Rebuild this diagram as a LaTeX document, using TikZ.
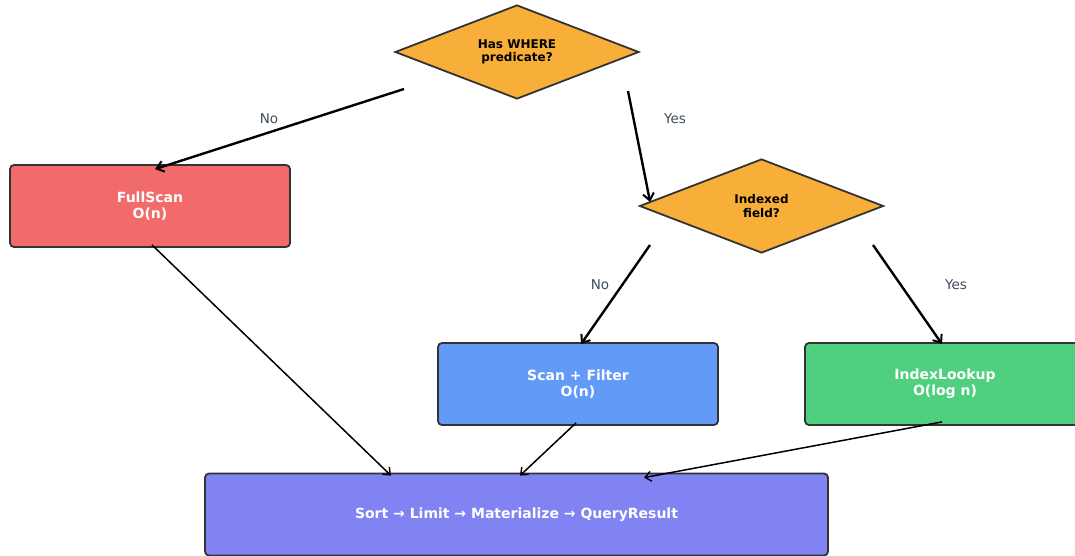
\documentclass[tikz,border=0pt]{standalone}
\usepackage{fontspec}
\setmainfont{DejaVu Sans}
\usetikzlibrary{shapes.geometric,arrows.meta,calc}

\definecolor{outline}{HTML}{333333}
\definecolor{amberfill}{HTML}{F7AF3A}
\definecolor{redfill}{HTML}{F26B6B}
\definecolor{bluefill}{HTML}{6399F7}
\definecolor{greenfill}{HTML}{4FD07F}
\definecolor{indigofill}{HTML}{8183F2}
\definecolor{labelgray}{HTML}{404B5C}

\tikzset{
  decision/.style={diamond, aspect=2.6, draw=outline, line width=1.8pt, fill=amberfill,
    minimum width=244pt, minimum height=94pt, inner sep=0pt, align=center,
    font=\bfseries\fontsize{12}{13.5}\selectfont, text=black},
  stepbox/.style={rectangle, rounded corners=4pt, draw=outline, line width=1.8pt,
    minimum width=280pt, minimum height=82pt, align=center,
    font=\bfseries\fontsize{14}{16}\selectfont, text=white},
  branch/.style={line width=2.4pt, -{Straight Barb[length=7pt,width=11pt,line width=2pt]}},
  merge/.style={line width=1.5pt, -{Straight Barb[length=6pt,width=10pt,line width=1.4pt]}},
  edgelabel/.style={font=\fontsize{13.5}{15}\selectfont, text=labelgray}
}

\begin{document}
\begin{tikzpicture}[x=1pt,y=-1pt]
\useasboundingbox (0,0) rectangle (1075,556);
\clip (0,0) rectangle (1075,556);

% decisions
\node[decision] (d1) at (517,52) {Has WHERE\\predicate?};
\node[decision] (d2) at (761.5,206) {Indexed\\field?};

% access paths and result pipeline
\node[stepbox, fill=redfill] (full) at (150,206) {FullScan\\O(n)};
\node[stepbox, fill=bluefill] (scan) at (578,384) {Scan + Filter\\O(n)};
\node[stepbox, fill=greenfill] (idx) at (945,384) {IndexLookup\\O(log n)};
\node[stepbox, fill=indigofill, minimum width=623pt] (sort) at (516.5,514.5)
  {Sort → Limit → Materialize → QueryResult};

% branch connectors
\draw[branch] ($(d1.center)+(-113,37)$) -- ($(full.north)+(5,5)$);
\draw[branch] ($(d1.center)+(111,39)$) -- ($(d2.west)+(11.5,-4)$);
\draw[branch] ($(d2.center)+(-111.5,39)$) -- ($(scan.north)+(3,2)$);
\draw[branch] ($(d2.center)+(111.5,39)$) -- ($(idx.north)+(-3,2)$);

% merge connectors
\draw[merge] ($(full.south)+(2,-3)$) -- ($(sort.north)+(-125.5,3)$);
\draw[merge] ($(scan.south)+(-2,-3)$) -- ($(sort.north)+(3.5,3)$);
\draw[merge] ($(idx.south)+(-3,-4)$) -- ($(sort.north)+(127.5,5)$);

% branch labels
\node[edgelabel] (l1) at (269,119) {No};
\node[edgelabel] (l2) at (675,119) {Yes};
\node[edgelabel] (l3) at (600,285) {No};
\node[edgelabel] (l4) at (956,285) {Yes};
\end{tikzpicture}
\end{document}
